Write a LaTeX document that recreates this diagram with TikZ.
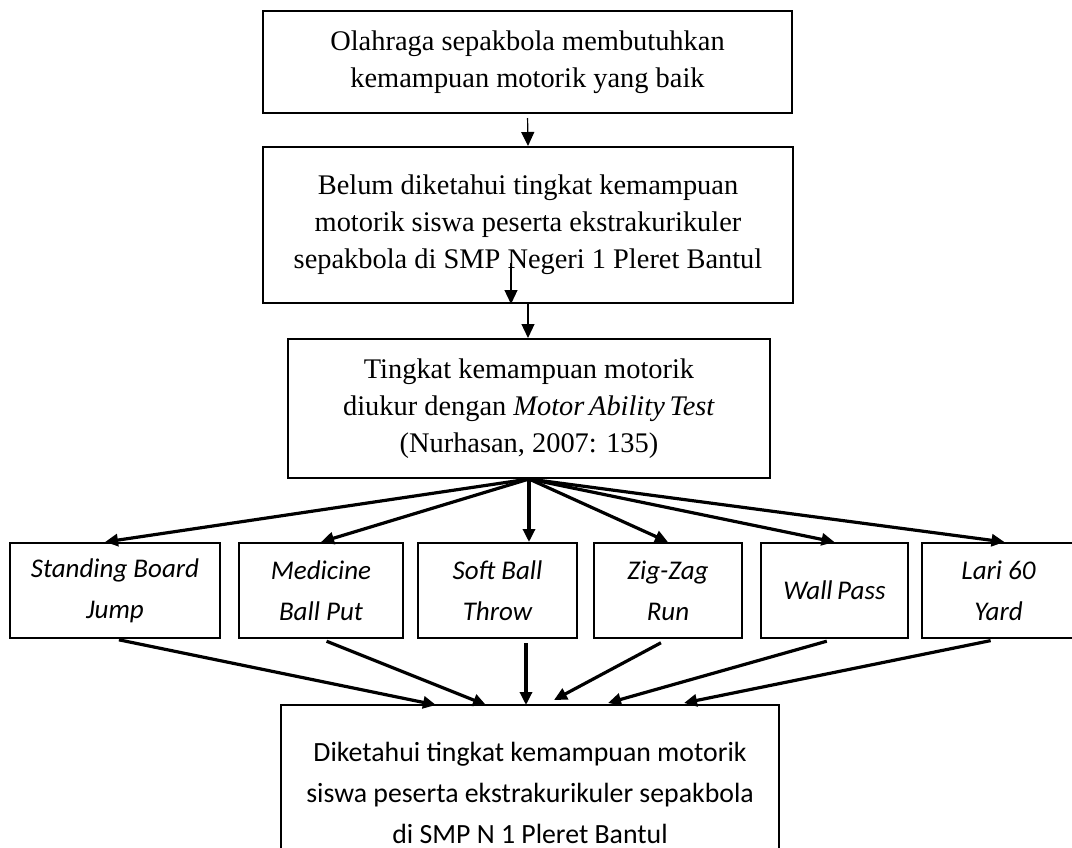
\documentclass[tikz,border=0pt]{standalone}
\usepackage{fontspec}
\setmainfont{Liberation Serif}
\newfontfamily\calibri{Carlito}
\usetikzlibrary{arrows.meta}

\begin{document}
\begin{tikzpicture}[x=0.5pt,y=-0.5pt]
		\useasboundingbox (0,0) rectangle (1072,847);

		\begin{scope}[every node/.style={rectangle,draw=black,line width=1pt,inner sep=0pt,align=center,font=\fontsize{14.2}{18.5}\selectfont}]
		\node[minimum width=264.5pt,minimum height=51pt] (olahraga) at (527.5,62) {Olahraga sepakbola membutuhkan\\kemampuan motorik yang baik};
		\node[minimum width=265pt,minimum height=78pt] (belum) at (528,225) {Belum diketahui tingkat kemampuan\\motorik siswa peserta ekstrakurikuler\\sepakbola di SMP Negeri 1 Pleret Bantul};
		\node[minimum width=241pt,minimum height=69.5pt] (tingkat) at (529,408.5) {Tingkat kemampuan motorik\\diukur dengan \textit{Motor\,Ability\,Test}\\(Nurhasan, 2007: 135)};
		\end{scope}

		\begin{scope}[every node/.style={rectangle,draw=black,line width=1pt,inner sep=0pt,minimum height=47.5pt,align=center,font=\calibri\itshape\fontsize{13.5}{20.5}\selectfont}]
		\node[minimum width=105pt] (jump) at (115,590.5) {Standing Board\\Jump};
		\node[minimum width=82pt] (medicine) at (321,590.5) {Medicine\\Ball Put};
		\node[minimum width=79.5pt] (softball) at (497.5,590.5) {Soft Ball\\Throw};
		\node[minimum width=74pt] (zigzag) at (668,590.5) {Zig-Zag\\Run};
		\node[minimum width=73.5pt] (wallpass) at (834.5,590.5) {Wall\,Pass};
		\node[minimum width=76.5pt] (lari) at (998.5,590.5) {Lari 60\\Yard};
		\end{scope}

		\node[rectangle,draw=black,line width=1pt,inner sep=0pt,minimum width=249pt,minimum height=87.5pt,align=center,font=\calibri\fontsize{13.9}{20.5}\selectfont] (diketahui) at (530,792.5) {Diketahui tingkat kemampuan motorik\\siswa peserta ekstrakurikuler sepakbola\\di SMP N 1 Pleret Bantul};

		\coordinate (negeri) at (511,263);
		\coordinate (inJump) at (436,705);
		\coordinate (inMedicine) at (486,705);
		\coordinate (inSoft) at (526,705);
		\coordinate (inZig) at (554,700);
		\coordinate (inWall) at (608,703);
		\coordinate (inLari) at (684,703);

		\begin{scope}[>={Triangle[length=7pt,width=6.5pt]},
		every edge/.style={draw=black,line width=0.6pt}]
		\path [->] (olahraga.south) edge [shorten <=2pt] (belum.north);
		\path [->] (negeri) edge (negeri |- belum.south);
		\path [->] (belum.south) edge (belum.south |- tingkat.north);
		\end{scope}

		\begin{scope}[>={Triangle[length=6.5pt,width=6pt]},
		every edge/.style={draw=black,line width=1.6pt}]
		\path [->] (tingkat.south) edge ([xshift=-5pt]jump.north);
		\path [->] (tingkat.south) edge (medicine.north);
		\path [->] (tingkat.south) edge (tingkat.south |- softball.north);
		\path [->] (tingkat.south) edge (zigzag.north);
		\path [->] (tingkat.south) edge (wallpass.north);
		\path [->] (tingkat.south) edge ([xshift=3pt]lari.north);

		\path [->] (jump.south) edge [shorten <=2pt] (inJump);
		\path [->] (medicine.south) edge [shorten <=3pt] (inMedicine);
		\path [->] (inSoft |- softball.south) edge [shorten <=2pt] (inSoft);
		\path [->] (zigzag.south) edge [shorten <=4pt] (inZig);
		\path [->] (wallpass.south) edge [shorten <=4pt] (inWall);
		\path [->] (lari.south) edge [shorten <=4pt] (inLari);
		\end{scope}
		\end{tikzpicture}
\end{document}
